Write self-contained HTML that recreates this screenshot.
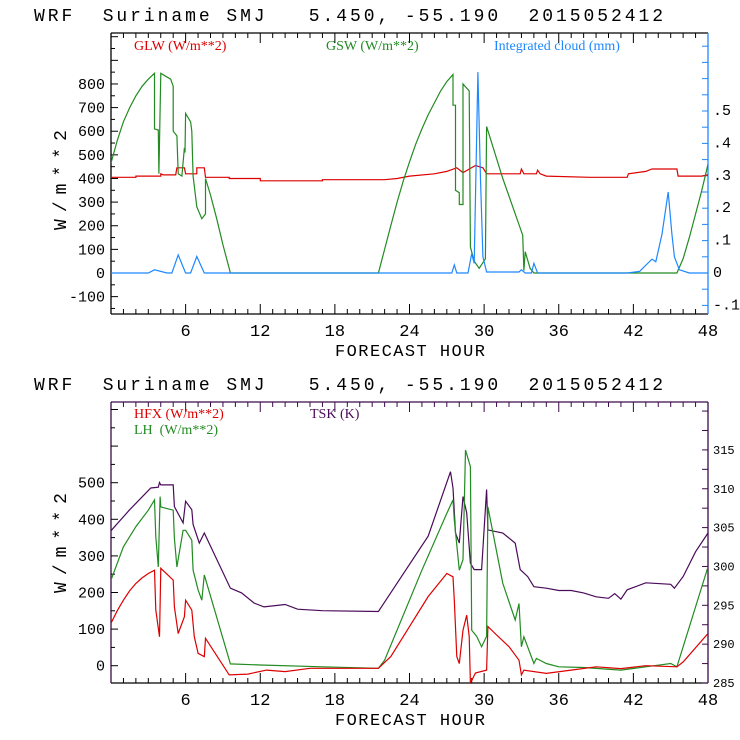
<!DOCTYPE html>
<html><head><meta charset="utf-8"><style>
body{margin:0;background:#fff;width:740px;height:740px;overflow:hidden}
svg{display:block;font-family:"Liberation Mono",monospace}
text{white-space:pre}
</style></head><body>
<svg id="c" width="740" height="740" viewBox="0 0 740 740"></svg>
<script>
// ---- data ----
const xTicks=[6,12,18,24,30,36,42,48];
const topLeftTicks=[-100,0,100,200,300,400,500,600,700,800];
const topRightTicks=[-0.1,0,0.1,0.2,0.3,0.4,0.5];
const topRightLabels=['-.1','0','.1','.2','.3','.4','.5'];
const botLeftTicks=[0,100,200,300,400,500];
const botRightTicks=[285,290,295,300,305,310,315];

const gswHours=[0,0.5,1,1.5,2,2.5,3,3.5,3.5,3.8,3.85,4,4.8,5,5,5.3,5.4,5.7,5.9,5.95,6,6.4,6.5,6.6,6.9,7.3,7.6,7.6,8,8.5,9,9.6,21.5,22,22.5,23,23.5,24,24.5,25,25.5,26,26.5,27,27.5,27.5,27.7,27.7,28,28,28.3,28.3,28.8,28.9,29.2,29.6,30.1,30.2,31.5,33.1,33.2,33.3,33.7,34,45.5,46,46.5,47,47.5,48];
const gswValues=[465,560,640,700,750,790,820,845,610,605,420,845,820,790,600,580,420,410,530,510,675,640,600,410,280,230,250,400,330,230,120,0,0,100,200,300,390,470,545,610,670,720,770,810,840,710,710,350,340,290,290,800,770,110,50,20,60,620,400,160,10,90,20,0,0,60,150,250,350,460];
const glwHours=[0,2,2,4,4,4.2,5.2,5.3,5.9,6,6.9,6.9,7.5,7.6,9.5,9.5,12,12,17,17,22,23,24,26,27,27.8,28.3,29.3,29.9,30.2,32.9,33,33.2,34.2,34.3,34.5,35,38.5,41.5,41.6,43,43.5,45.5,45.6,47.5,48];
const glwValues=[405,405,410,410,420,415,415,445,445,420,420,445,445,405,405,400,400,390,390,395,395,400,410,420,430,445,425,455,445,420,420,440,420,420,435,420,410,405,405,420,430,440,440,410,410,415];
const cloudHours=[0,3,3.5,4.5,4.9,5.4,6,6.4,6.9,7.5,27.4,27.6,27.8,28.7,29,29.2,29.5,29.7,29.9,30.2,32.8,33,33.3,33.8,34,34.3,41.5,42.5,43.5,43.8,44.3,44.8,45.1,45.3,45.7,46.5,48];
const cloudValues=[0,0,0.01,0,0,0.056,0,0,0.051,0,0,0.025,0,0,0.06,0.03,0.62,0.3,0.05,0.003,0.003,0.01,0,0,0.03,0,0,0.005,0.043,0.035,0.12,0.25,0.12,0.05,0.01,0,0];

const tskHours=[0,1.5,3.2,3.8,3.9,4,5,5.1,5.8,6,6.5,6.6,7.1,7.5,9.6,10.5,11.5,12.3,14,15,17,21.5,25.5,27.3,27.5,27.7,28,28.3,28.6,28.9,29.2,29.8,30.2,30.3,31.5,32.5,32.9,33.5,34,35,36,37,38,39,40,40.5,41,41.5,43,45,45.3,46,47,48];
const tskValues=[304.6,307.3,310.1,310.2,310.8,310.5,310.5,307.7,305.6,308.4,307.3,305.4,303,304.3,297.2,296.6,295.3,294.8,295.1,294.5,294.3,294.2,303.9,312.2,310.1,304.3,303,309,306.9,300.4,299.6,299.6,309.9,304.7,304.3,303,299.6,298.7,297.4,297.2,296.9,296.9,296.6,296.1,295.9,296.5,295.8,297,297.9,297.7,297.2,298.7,301.9,304.3];
const lhHours=[0,1,2,3,3.5,3.6,3.8,3.95,4,5,5.1,5.3,5.8,6,6.5,6.6,7,7.3,7.5,9.6,12,17,21.5,22,25,27,27.5,27.6,28,28.3,28.5,28.9,29,29.4,29.8,30.2,30.3,31.5,32.5,32.8,33,33.2,34,34.2,35,36,38,41,43,45,45.5,48];
const lhValues=[234,325,380,425,453,352,270,462,434,425,348,270,370,370,343,261,207,179,248,5,2,-3,-7,15,261,416,453,398,261,290,589,544,97,80,52,80,434,225,125,170,52,79,6,20,6,-3,-5,-12,-3,6,-3,270];
const hfxHours=[0,0.5,1,1.5,2,2.5,3,3.5,3.6,3.9,4,5,5.1,5.4,5.9,6,6.5,6.7,7,7.5,7.6,9.5,11,12.5,14,16,21.5,22.5,25.5,27,27.5,27.6,27.8,28,28.3,28.6,28.8,28.9,29.3,30.2,30.3,31,32,32.8,33,33.2,35,37,39,41,43,45.5,46,48];
const hfxValues=[116,150,179,205,225,240,252,261,152,79,266,234,161,88,134,179,152,79,34,25,75,-25,-23,-12,-16,-7,-7,25,189,252,243,179,25,6,97,138,80,-48,-20,-12,107,84,52,15,-25,-12,-21,-12,-3,-8,0,-3,10,88];

// ---- helpers ----
const svg=document.getElementById('c');
const NS='http://www.w3.org/2000/svg';
function mk(tag,attrs,parent){const e=document.createElementNS(NS,tag);for(const k in attrs)e.setAttribute(k,attrs[k]);(parent||svg).appendChild(e);return e;}
const X0=111,X1=708;
const xs=h=>X0+(X1-X0)*h/48;

function drawPanel(o){
  const g=mk('g',{});
  
  
  const t=mk('text',{x:34,y:o.titleY,'font-size':18,fill:'#000',textLength:629,lengthAdjust:'spacing'},g);
  t.textContent='WRF  Suriname SMJ   5.450, -55.190  2015052412';
  
  
  mk('line',{x1:X0,y1:o.top,x2:X1,y2:o.top,stroke:o.frame,'stroke-width':1.3},g);
  mk('line',{x1:X0,y1:o.bot,x2:X1,y2:o.bot,stroke:'#000','stroke-width':1.3},g);
  mk('line',{x1:X0,y1:o.top,x2:X0,y2:o.bot,stroke:o.frame,'stroke-width':1.3},g);
  const ra=mk('line',{x1:X1,y1:o.top,x2:X1,y2:o.bot,stroke:o.rcol,'stroke-width':1.3},g);
  
  
  for(let h=1;h<48;h++){const x=xs(h);const L=(h%6==0)?10:5;
    mk('line',{x1:x,y1:o.bot,x2:x,y2:o.bot-L,stroke:'#000'},g);
    mk('line',{x1:x,y1:o.top,x2:x,y2:o.top+L,stroke:o.frame},g);}
  xTicks.forEach(h=>{const tt=mk('text',{x:xs(h),y:o.bot+22,'font-size':17,'text-anchor':'middle'},g);tt.textContent=h;
    
    });
  const xl=mk('text',{x:410,y:o.bot+42,'font-size':17,'text-anchor':'middle',textLength:150,lengthAdjust:'spacing'},g);xl.textContent='FORECAST HOUR';
  
  
  for(let v=o.lmin;v<=o.lmax;v+=o.lminor){const y=o.ly(v);if(y<o.top||y>o.bot)continue;
    const major=Math.abs(v%o.lmajor)<1e-6;mk('line',{x1:X0,y1:y,x2:X0+(major?7:4),y2:y,stroke:'#000'},g);}
  o.lt.forEach(v=>{const tt=mk('text',{x:X0-6,y:o.ly(v)+5,'font-size':15,'text-anchor':'end'},g);tt.textContent=v;
    
    });
  const yl=mk('text',{x:0,y:0,'font-size':18,'text-anchor':'middle',textLength:100,lengthAdjust:'spacing',transform:`translate(${o.ylX},${o.ylY}) rotate(-90)`},g);
  yl.textContent='W/m**2';
  
  
  for(let v=o.rmin;v<=o.rmax+1e-9;v+=o.rminor){const y=o.ry(v);if(y<o.top||y>o.bot)continue;
    mk('line',{x1:X1,y1:y,x2:X1-6,y2:y,stroke:o.rcol},g);}
  o.rt.forEach((v,i)=>{const tt=mk('text',{x:X1+5,y:o.ry(v)+4,'font-size':o.rfs,'text-anchor':'start',fill:'#000'},g);tt.textContent=o.rl[i];
    
    });
  o.series.forEach(s=>{const pts=s.h.map((h,i)=>xs(h).toFixed(1)+','+s.y(s.v[i]).toFixed(1)).join(' ');
    const p=mk('polyline',{points:pts,fill:'none',stroke:s.c,'stroke-width':1.2,'clip-path':`url(#${o.clip})`},g);
    
    });
  o.legend.forEach(l=>{const tt=mk('text',{x:l.x,y:l.y,'font-size':14,fill:l.c,'font-family':'Liberation Serif,serif'},g);tt.textContent=l.t;
    
    });
  const cp=mk('clipPath',{id:o.clip});mk('rect',{x:X0,y:o.top,width:X1-X0,height:o.bot-o.top},cp);
}
const tly=v=>273-v*0.2363;
const try_=v=>273-v*324;
drawPanel({name:'top-panel',titleY:21,top:33,bot:314,frame:'#000',rcol:'#1e88ff',clip:'c1',
  ly:tly,lmin:-150,lmax:1000,lminor:50,lmajor:100,lt:topLeftTicks,ylX:66,ylY:180,
  ry:try_,rmin:-0.15,rmax:0.9,rminor:0.05,rt:topRightTicks,rl:topRightLabels,rfs:15,
  series:[{name:'glw-line',h:glwHours,v:glwValues,y:tly,c:'#dd0000'},
          {name:'gsw-line',h:gswHours,v:gswValues,y:tly,c:'#228b22'},
          {name:'cloud-line',h:cloudHours,v:cloudValues,y:try_,c:'#1e88ff'}],
  legend:[{x:134,y:50,t:'GLW (W/m**2)',c:'#dd0000'},{x:326,y:50,t:'GSW (W/m**2)',c:'#228b22'},{x:494,y:50,t:'Integrated cloud (mm)',c:'#1e88ff'}]});
const bly=v=>665.7-v*0.366;
const bry=v=>683-(v-285)*7.77;
drawPanel({name:'bottom-panel',titleY:390,top:402,bot:683,frame:'#3a0a4a',rcol:'#3a0a4a',clip:'c2',
  ly:bly,lmin:-50,lmax:750,lminor:50,lmajor:100,lt:botLeftTicks,ylX:66,ylY:543,
  ry:bry,rmin:285,rmax:320,rminor:2.5,rt:botRightTicks,rl:botRightTicks,rfs:12,
  series:[{name:'tsk-line',h:tskHours,v:tskValues,y:bry,c:'#4b0a5a'},
          {name:'lh-line',h:lhHours,v:lhValues,y:bly,c:'#228b22'},
          {name:'hfx-line',h:hfxHours,v:hfxValues,y:bly,c:'#dd0000'}],
  legend:[{x:134,y:418,t:'HFX (W/m**2)',c:'#dd0000'},{x:134,y:434,t:'LH  (W/m**2)',c:'#228b22'},{x:310,y:418,t:'TSK (K)',c:'#4b0a5a'}]});
</script>
</body></html>
